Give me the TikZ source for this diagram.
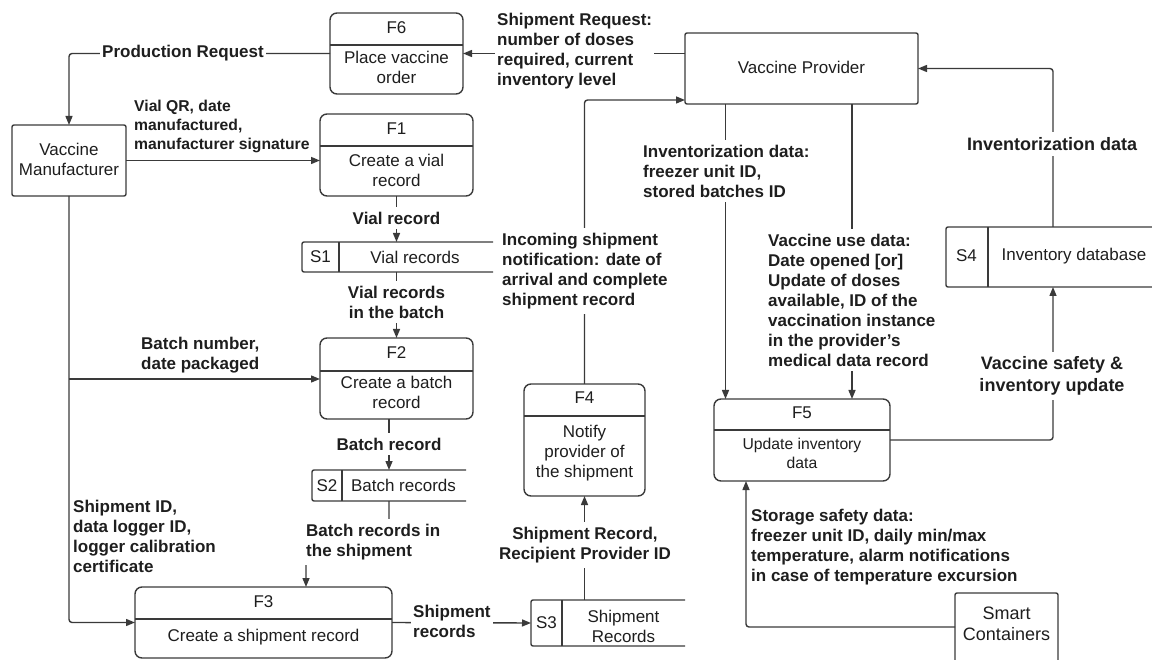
\documentclass[tikz,border=0pt]{standalone}
\usepackage{fontspec}
\setmainfont{Liberation Sans}
\usetikzlibrary{arrows.meta}
\definecolor{ln}{HTML}{3A3A3A}
\definecolor{tx}{HTML}{1E1E1E}
\begin{document}
\begin{tikzpicture}[x=1pt,y=-1pt,
  box/.style={draw=ln,line width=1.4pt,rounded corners=7pt,inner sep=0pt,outer sep=0pt},
  ent/.style={draw=ln,line width=1.4pt,rounded corners=2pt,inner sep=0pt,outer sep=0pt},
  st/.style={inner sep=0pt,outer sep=0pt},
  wire/.style={draw=ln,line width=1.4pt,rounded corners=3pt,-{Triangle[length=9pt,width=7pt]}},
  plain/.style={draw=ln,line width=1.4pt},
  btxt/.style={text=tx,font=\fontsize{17}{20}\selectfont,inner sep=0pt,align=center},
  lbl/.style={text=tx,font=\fontsize{17}{20}\selectfont\bfseries,inner sep=0pt,align=left},
  lblc/.style={lbl,align=center},
  wb/.style={fill=white,inner xsep=2pt,inner ysep=5pt},
]
\useasboundingbox (0,0) rectangle (1152,660);

% ---------- entities ----------
\node[ent,minimum width=114pt,minimum height=71pt] (vm) at (69,160.5) {};
\node[btxt] (vmt) at (69,159) {Vaccine\\Manufacturer};

\node[ent,minimum width=233pt,minimum height=71pt] (vp) at (801.5,68.5) {};
\node[btxt] (vpt) at (801.5,67) {Vaccine Provider};

\node[ent,minimum width=103pt,minimum height=87pt] (sc) at (1006.5,636.5) {};
\node[btxt,font=\fontsize{18}{21}\selectfont] (sct) at (1006.5,624) {Smart\\Containers};

% ---------- processes ----------
\node[box,minimum width=133pt,minimum height=81pt] (f6) at (396.5,53.5) {};
\draw[plain] (330,45) -- (463,45);
\node[btxt] (f6id) at (396.5,28) {F6};
\node[btxt] (f6tx) at (396.5,67) {Place vaccine\\order};

\node[box,minimum width=153pt,minimum height=82pt] (f1) at (396.5,155) {};
\draw[plain] (320,146) -- (473,146);
\node[btxt] (f1id) at (396.5,129) {F1};
\node[btxt] (f1tx) at (396.5,170) {Create a vial\\record};

\node[box,minimum width=153pt,minimum height=81pt] (f2) at (396.5,378.5) {};
\draw[plain] (320,371) -- (473,371);
\node[btxt] (f2id) at (396.5,353) {F2};
\node[btxt] (f2tx) at (396.5,392) {Create a batch\\record};

\node[box,minimum width=257pt,minimum height=71pt] (f3) at (263.5,622.5) {};
\draw[plain] (135,619) -- (392,619);
\node[btxt] (f3id) at (263.5,602) {F3};
\node[btxt] (f3tx) at (263.5,637) {Create a shipment record};

\node[box,minimum width=121pt,minimum height=112pt] (f4) at (584.5,440) {};
\draw[plain] (524,416) -- (645,416);
\node[btxt] (f4id) at (584.5,398) {F4};
\node[btxt] (f4tx) at (584.5,453) {Notify\\provider of\\the shipment};

\node[box,minimum width=176pt,minimum height=82pt] (f5) at (802,440) {};
\draw[plain] (714,430) -- (890,430);
\node[btxt] (f5id) at (802,413) {F5};
\node[btxt,font=\fontsize{15.7}{19}\selectfont] (f5tx) at (802,453) {Update inventory\\data};

% ---------- stores ----------
\node[st,minimum width=191pt,minimum height=30pt] (s1) at (397.5,257) {};
\draw[plain,rounded corners=2pt] (s1.north east) -- (s1.north west) -- (s1.south west) -- (s1.south east);
\draw[plain] (339,242) -- (339,272);
\node[btxt] (s1id) at (320.5,257) {S1};
\node[btxt] (s1tx) at (415,257) {Vial records};

\node[st,minimum width=154pt,minimum height=31pt] (s2) at (389,485.5) {};
\draw[plain,rounded corners=2pt] (s2.north east) -- (s2.north west) -- (s2.south west) -- (s2.south east);
\draw[plain] (342,470) -- (342,501);
\node[btxt] (s2id) at (327,485.5) {S2};
\node[btxt] (s2tx) at (403.5,485.5) {Batch records};

\node[st,minimum width=154pt,minimum height=46pt] (s3) at (608,623) {};
\draw[plain,rounded corners=2pt] (s3.north east) -- (s3.north west) -- (s3.south west) -- (s3.south east);
\draw[plain] (562,600) -- (562,646);
\node[btxt] (s3id) at (546.5,623) {S3};
\node[btxt] (s3tx) at (623.5,626) {Shipment\\Records};

\node[st,minimum width=214pt,minimum height=60pt] (s4) at (1053,257) {};
\draw[plain,rounded corners=2pt] (s4.north east) -- (s4.north west) -- (s4.south west) -- (s4.south east);
\draw[plain] (988,227) -- (988,287);
\node[btxt] (s4id) at (966.5,256) {S4};
\node[btxt] (s4tx) at (1074,256) {Inventory database};

% ---------- connectors ----------
\coordinate (br) at (69,379);
\draw[wire] (f6.west) -| (vm.north);
\draw[wire] (vm.east) -- (f1.west |- vm.east);
\draw[wire] (f1.south) -- (f1.south |- s1.north);
\draw[wire] (f1.south |- s1.south) -- (f2.north);
\draw[wire] (vm.south) |- (f3.west);
\draw[wire] (br) -- (f2.west |- br);
\draw[wire] (s2.north |- f2.south) -- (s2.north);
\draw[wire] (s2.south) |- ([xshift=42.5pt,yshift=45pt]f3.north) -- ([xshift=42.5pt]f3.north);
\draw[wire] (f3.east) -- (s3.west);
\draw[wire] (f4.south |- s3.north) -- (f4.south);
\draw[wire] (f4.north) |- ([yshift=4pt]vp.south west);
\draw[wire] ([xshift=-76pt]vp.south) -- ([xshift=-76pt]vp.south |- f5.north);
\draw[wire] ([xshift=50.5pt]vp.south) -- ([xshift=50.5pt]vp.south |- f5.north);
\draw[wire] (s4.north) |- (vp.east);
\draw[wire] (f5.east) -| (s4.south);
\draw[wire] ([yshift=9.5pt]sc.west) -| ([xshift=-56pt]f5.south);
\draw[wire] ([yshift=15pt]vp.west) -- (f6.east);

% ---------- labels ----------
\node[lblc,wb] (l1) at (183,53) {Production Request};
\node[lbl,anchor=west,font=\fontsize{15.7}{19}\selectfont\bfseries] (l2) at (134,126) {Vial QR, date\\manufactured,\\manufacturer signature};
\node[lblc,wb] (l3) at (396.5,218) {Vial record};
\node[lblc,wb] (l4) at (396.5,302) {Vial records\\in the batch};
\node[lbl,anchor=west] (l5) at (141,355) {Batch number,\\date packaged};
\node[lbl,anchor=west] (l6) at (73,536) {Shipment ID,\\data logger ID,\\logger calibration\\certificate};
\node[lblc,wb] (l7) at (389,444) {Batch record};
\node[lbl,wb,anchor=west] (l8) at (304,542) {Batch records in\\the shipment};
\node[lbl,wb,anchor=west] (l9) at (411,621) {Shipment\\records};
\node[lblc,wb] (l10) at (585,545) {Shipment Record,\\Recipient Provider ID};
\node[lbl,wb,anchor=west] (l11) at (500,271) {Incoming shipment\\notification: date of\\arrival and complete\\shipment record};
\node[lbl,wb,anchor=west] (l12) at (641,171) {Inventorization data:\\freezer unit ID,\\stored batches ID};
\node[lbl,wb,anchor=west] (l13) at (766,300) {Vaccine use data:\\Date opened [or]\\Update of doses\\available, ID of the\\vaccination instance\\in the provider's\\medical data record};
\node[lblc,wb,font=\fontsize{18}{21}\selectfont\bfseries] (l14) at (1052,144) {Inventorization data};
\node[lblc,wb,font=\fontsize{18}{22}\selectfont\bfseries] (l15) at (1052,376) {Vaccine safety \&\\inventory update};
\node[lbl,anchor=west] (l16) at (751,547) {Storage safety data:\\freezer unit ID, daily min/max\\temperature, alarm notifications\\in case of temperature excursion};
\node[lbl,wb,anchor=west] (l17) at (495,51) {Shipment Request:\\number of doses\\required, current\\inventory level};
\end{tikzpicture}
\end{document}
